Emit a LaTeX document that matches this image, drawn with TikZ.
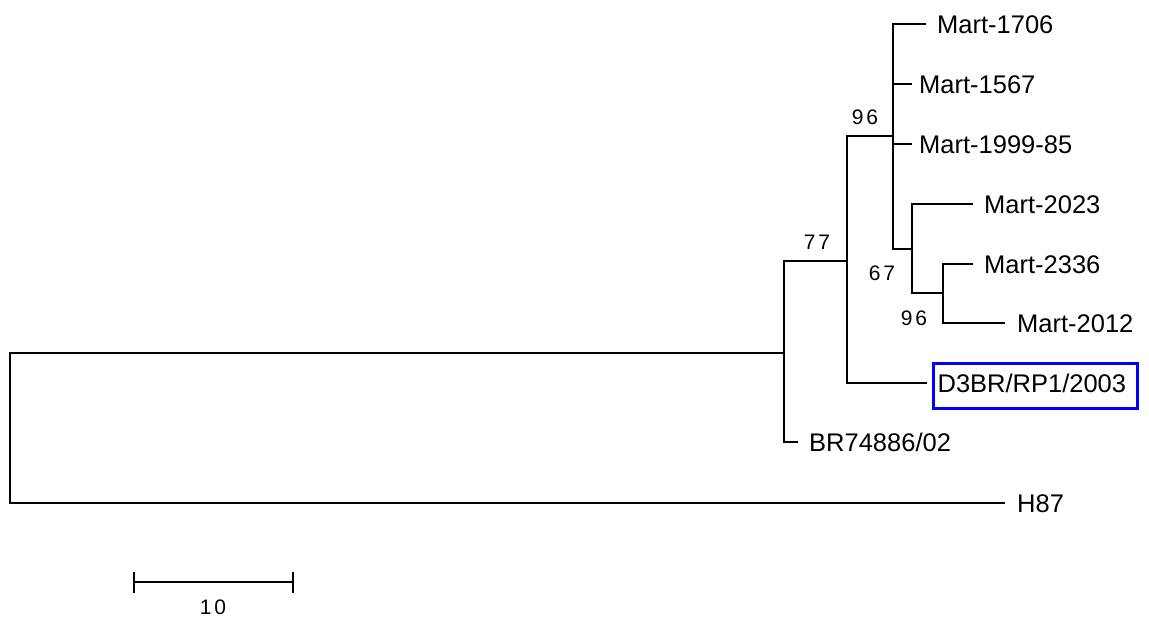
\documentclass[tikz,border=0pt]{standalone}
\usepackage{fontspec}
\setmainfont{Liberation Sans}
\newfontfamily\bootfont[LetterSpace=14]{Liberation Sans}
\begin{document}
\begin{tikzpicture}[x=1pt,y=-1pt,
  branch/.style={line width=2.2pt,line join=miter},
  leaflabel/.style={anchor=base west,inner sep=0pt,font=\fontsize{25.5}{30}\selectfont},
  boot/.style={inner sep=0pt,font=\bootfont\fontsize{21}{24}\selectfont},
  hilite/.style={draw=blue,line width=3.2pt,anchor=base west,inner xsep=0pt,inner ysep=0pt,
    text height=28.5pt,text depth=16.5pt,font=\fontsize{25.5}{30}\selectfont}]
\useasboundingbox (0,0) rectangle (1149,621);
% internal nodes
\coordinate (r) at (10,428);
\coordinate (n77) at (784,353);
\coordinate (n96) at (847,261);
\coordinate (nM) at (893,136);
\coordinate (n67) at (912,249);
\coordinate (n96b) at (943,293);
% leaf tips
\coordinate (tH87) at (1005,503);
\coordinate (tBR) at (798,442);
\coordinate (tD3) at (927,383);
\coordinate (t1706) at (926,24);
\coordinate (t1567) at (912,84);
\coordinate (t1999) at (912,144);
\coordinate (t2023) at (973,204);
\coordinate (t2336) at (973,264);
\coordinate (t2012) at (1005,323);
% branches
\draw[branch] (r) |- (n77);
\draw[branch] (r) |- (tH87);
\draw[branch] (n77) |- (n96);
\draw[branch] (n77) |- (tBR);
\draw[branch] (n96) |- (nM);
\draw[branch] (n96) |- (tD3);
\draw[branch] (nM) |- (t1706);
\draw[branch] (nM) |- (t1567);
\draw[branch] (nM) |- (t1999);
\draw[branch] (nM) |- (n67);
\draw[branch] (n67) |- (t2023);
\draw[branch] (n67) |- (n96b);
\draw[branch] (n96b) |- (t2336);
\draw[branch] (n96b) |- (t2012);
% leaf labels
\node[leaflabel] (lH87) at (1017,512) {H87};
\node[leaflabel] (lBR) at (809,451) {BR74886/02};
\node[hilite] (lD3) at (931.5,392) {\hspace*{4.5pt}D3BR/RP1/2003\hspace*{11.5pt}};
\node[leaflabel] (l1706) at (937,33) {Mart-1706};
\node[leaflabel] (l1567) at (919,93) {Mart-1567};
\node[leaflabel] (l1999) at (919,153) {Mart-1999-85};
\node[leaflabel] (l2023) at (984,213) {Mart-2023};
\node[leaflabel] (l2336) at (984,273) {Mart-2336};
\node[leaflabel] (l2012) at (1017,332) {Mart-2012};
% bootstrap values
\node[boot] (b96) at (865,117) {96};
\node[boot] (b77) at (817,242) {77};
\node[boot] (b67) at (882,273) {67};
\node[boot] (b96b) at (914,318) {96};
% scale bar
\coordinate (sa) at (134,582);
\coordinate (sb) at (293,582);
\draw[branch] (sa) -- (sb);
\draw[branch] ([yshift=-10.5pt]sa) -- ([yshift=10.5pt]sa);
\draw[branch] ([yshift=-10.5pt]sb) -- ([yshift=10.5pt]sb);
\node[boot] (s10) at (213,607) {10};
\end{tikzpicture}
\end{document}
